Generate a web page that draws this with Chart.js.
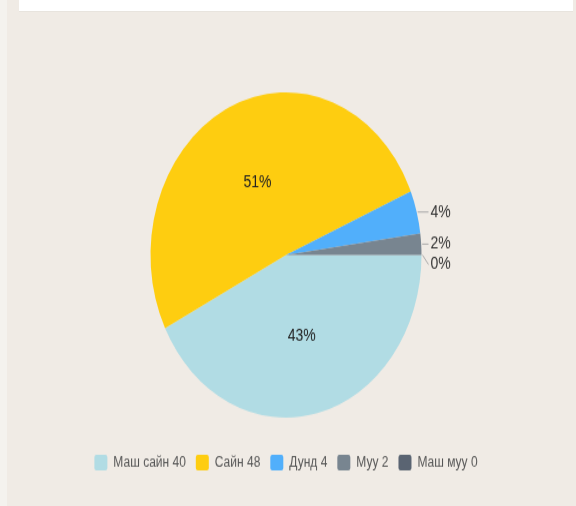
<!DOCTYPE html>
<html>
<head>
<meta charset="utf-8">
<script src="https://cdn.jsdelivr.net/npm/chart.js@4/dist/chart.umd.min.js"></script>
<style>
  html, body { margin: 0; padding: 0; }
  body { width: 576px; height: 506px; background: #f0ebe5; position: relative; overflow: hidden; }
  #strip { position: absolute; left: 0; top: 0; width: 7px; height: 506px; background: #f4f2ee; }
  #topbox { position: absolute; left: 19px; top: 0; width: 554px; height: 11px; background: #fff; border-bottom: 1px solid #e8e4de; z-index: 2; }
  /* chart is drawn at 576x422 and stretched to 506 tall, like the reference */
  #wrap { position: absolute; left: 0; top: 0; width: 576px; height: 422px; transform: scaleY(1.2); transform-origin: 0 0; }
</style>
</head>
<body>
<div id="strip"></div>
<div id="topbox"></div>
<div id="wrap"><canvas id="pie"></canvas></div>
<script>
// Data
const categories = ['Маш сайн', 'Сайн', 'Дунд', 'Муу', 'Маш муу'];
const values = [40, 48, 4, 2, 0];
const colors = ['#b1dce4', '#fecd10', '#51affb', '#788590', '#5a6472'];

const fontFamily = '"Liberation Sans", Arial, sans-serif';
const total = values.reduce((a, b) => a + b, 0);

// Percent labels: big slices inside, small ones outside with a leader line
const pieLabels = {
    id: 'pieLabels',
    afterDatasetsDraw(chart) {
        const ctx = chart.ctx;
        const meta = chart.getDatasetMeta(0);
        let lastY = -Infinity;
        ctx.save();
        ctx.font = '14px ' + fontFamily;
        ctx.textBaseline = 'middle';
        meta.data.forEach((arc, i) => {
            const p = arc.getProps(['x', 'y', 'startAngle', 'endAngle', 'outerRadius'], true);
            const pct = Math.round(values[i] / total * 100);
            const mid = (p.startAngle + p.endAngle) / 2;
            if (pct >= 10) {
                ctx.fillStyle = '#222';
                ctx.textAlign = 'center';
                ctx.fillText(pct + '%', p.x + Math.cos(mid) * p.outerRadius * 0.5, p.y + Math.sin(mid) * p.outerRadius * 0.5 + 1.5);
            } else {
                const ex = p.x + Math.cos(mid) * (p.outerRadius + 1);
                const ey = p.y + Math.sin(mid) * p.outerRadius;
                const ty = Math.max(ey, lastY + 17);
                lastY = ty;
                const tx = p.x + p.outerRadius + 9;
                ctx.strokeStyle = '#aaa';
                ctx.lineWidth = 1;
                ctx.beginPath();
                ctx.moveTo(ex, ey);
                ctx.lineTo(tx - 2, ty);
                ctx.stroke();
                ctx.fillStyle = '#333';
                ctx.textAlign = 'left';
                ctx.fillText(pct + '%', tx, ty);
            }
        });
        ctx.restore();
    }
};

const chart = new Chart(document.getElementById('pie'), {
    type: 'pie',
    data: {
        labels: categories.map((c, i) => c + ' ' + values[i]),
        datasets: [{
            data: values,
            backgroundColor: colors,
            borderWidth: 0
        }]
    },
    options: {
        responsive: true,
        maintainAspectRatio: false,
        animation: false,
        rotation: 90,
        radius: 135.5,
        layout: {
            padding: { top: 56, bottom: 20, left: 0, right: 4 }
        },
        plugins: {
            legend: {
                position: 'bottom',
                labels: {
                    boxWidth: 13,
                    boxHeight: 13,
                    padding: 10,
                    useBorderRadius: true,
                    borderRadius: 2,
                    color: '#555',
                    font: { family: fontFamily, size: 12 }
                }
            },
            tooltip: { enabled: false }
        }
    },
    plugins: [pieLabels]
});
</script>
</body>
</html>
